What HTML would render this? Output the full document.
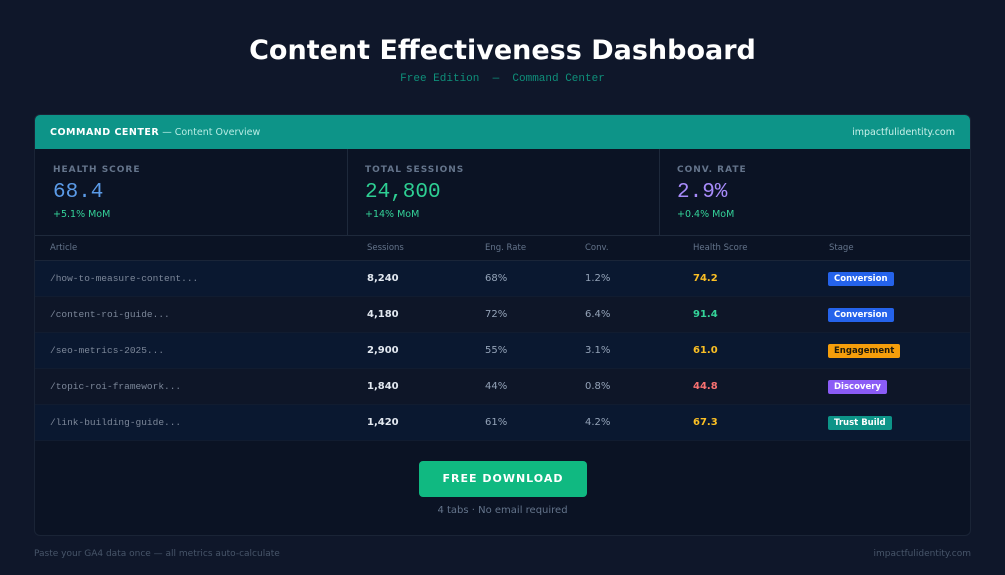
<!DOCTYPE html>
<html><head><meta charset="utf-8"><style>
*{margin:0;padding:0;box-sizing:border-box}
body{width:1005px;height:575px;background:#0f172a;font-family:"DejaVu Sans","Liberation Sans",sans-serif;position:relative;overflow:hidden;color:#e2e8f0}
.a{position:absolute;white-space:nowrap}
.mono{font-family:"Courier New","Liberation Mono",monospace}
.card{position:absolute;left:34px;top:114px;width:937px;height:422px;background:#0b1324;border:1px solid #1a2436;border-radius:6px;overflow:hidden}
.hdr{position:absolute;left:0;top:0;width:100%;height:34px;background:#0d9488}
.row{position:absolute;left:0;width:100%;height:36px;border-bottom:1px solid #111c30}
.badge{position:absolute;height:14px;line-height:14px;padding:0 6px;border-radius:2px;font-size:8.5px;font-weight:bold;color:#fff}
</style></head><body>
<div class="a" style="left:0;width:1005px;text-align:center;top:35px;font-size:27px;font-weight:bold;color:#fff">Content Effectiveness Dashboard</div>
<div class="a mono" style="left:0;width:1005px;text-align:center;top:73px;font-size:11px;color:#0f8f7a">Free Edition &nbsp;— &nbsp;Command Center</div>
<div class="card">
 <div class="hdr">
  <div class="a" style="left:15px;top:12px;font-size:9.5px;color:#fff"><b style="letter-spacing:0.5px">COMMAND CENTER</b> <span style="color:#b7ece4">— Content Overview</span></div>
  <div class="a" style="right:15px;top:12px;font-size:9.5px;color:#c9f1ea">impactfulidentity.com</div>
 </div>
 <div class="a" style="left:312px;top:34px;width:1px;height:86px;background:#1e293b"></div>
 <div class="a" style="left:624px;top:34px;width:1px;height:86px;background:#1e293b"></div>
 <div class="a" style="left:0;top:120px;width:100%;height:1px;background:#1e293b"></div>
 <div class="a" style="left:18px;top:50px;font-size:9px;font-weight:bold;letter-spacing:1px;color:#64748b">HEALTH SCORE</div>
 <div class="a mono" style="left:18px;top:66px;font-size:21px;color:#5b9be8">68.4</div>
 <div class="a" style="left:18px;top:94px;font-size:9.5px;color:#34d399">+5.1% MoM</div>
 <div class="a" style="left:330px;top:50px;font-size:9px;font-weight:bold;letter-spacing:1px;color:#64748b">TOTAL SESSIONS</div>
 <div class="a mono" style="left:330px;top:66px;font-size:21px;color:#2ecf93">24,800</div>
 <div class="a" style="left:330px;top:94px;font-size:9.5px;color:#34d399">+14% MoM</div>
 <div class="a" style="left:642px;top:50px;font-size:9px;font-weight:bold;letter-spacing:1px;color:#64748b">CONV. RATE</div>
 <div class="a mono" style="left:642px;top:66px;font-size:21px;color:#a78bfa">2.9%</div>
 <div class="a" style="left:642px;top:94px;font-size:9.5px;color:#34d399">+0.4% MoM</div>
 <div class="row" style="top:121px;height:25px;background:#0b1324;border-bottom:1px solid #1a2538"></div>
 <div class="a" style="left:15px;top:128px;font-size:8.5px;color:#64748b">Article</div>
 <div class="a" style="left:332px;top:128px;font-size:8.5px;color:#64748b">Sessions</div>
 <div class="a" style="left:450px;top:128px;font-size:8.5px;color:#64748b">Eng. Rate</div>
 <div class="a" style="left:550px;top:128px;font-size:8.5px;color:#64748b">Conv.</div>
 <div class="a" style="left:658px;top:128px;font-size:8.5px;color:#64748b">Health Score</div>
 <div class="a" style="left:794px;top:128px;font-size:8.5px;color:#64748b">Stage</div>

 <div class="row" style="top:146px;background:#0a1830"></div>
 <div class="row" style="top:182px;background:#0e1628"></div>
 <div class="row" style="top:218px;background:#0a1830"></div>
 <div class="row" style="top:254px;background:#0e1628"></div>
 <div class="row" style="top:290px;background:#0a1830"></div>

 <div class="a mono" style="left:15px;top:158px;font-size:9.5px;color:#7c8799">/how-to-measure-content...</div>
 <div class="a" style="left:332px;top:158px;font-size:10px;font-weight:bold;color:#e2e8f0">8,240</div>
 <div class="a" style="left:450px;top:158px;font-size:10px;color:#94a3b8">68%</div>
 <div class="a" style="left:550px;top:158px;font-size:10px;color:#94a3b8">1.2%</div>
 <div class="a" style="left:658px;top:158px;font-size:10px;font-weight:bold;color:#fbbf24">74.2</div>
 <div class="badge" style="left:793px;top:157px;background:#2563eb">Conversion</div>

 <div class="a mono" style="left:15px;top:194px;font-size:9.5px;color:#7c8799">/content-roi-guide...</div>
 <div class="a" style="left:332px;top:194px;font-size:10px;font-weight:bold;color:#e2e8f0">4,180</div>
 <div class="a" style="left:450px;top:194px;font-size:10px;color:#94a3b8">72%</div>
 <div class="a" style="left:550px;top:194px;font-size:10px;color:#94a3b8">6.4%</div>
 <div class="a" style="left:658px;top:194px;font-size:10px;font-weight:bold;color:#34d399">91.4</div>
 <div class="badge" style="left:793px;top:193px;background:#2563eb">Conversion</div>

 <div class="a mono" style="left:15px;top:230px;font-size:9.5px;color:#7c8799">/seo-metrics-2025...</div>
 <div class="a" style="left:332px;top:230px;font-size:10px;font-weight:bold;color:#e2e8f0">2,900</div>
 <div class="a" style="left:450px;top:230px;font-size:10px;color:#94a3b8">55%</div>
 <div class="a" style="left:550px;top:230px;font-size:10px;color:#94a3b8">3.1%</div>
 <div class="a" style="left:658px;top:230px;font-size:10px;font-weight:bold;color:#fbbf24">61.0</div>
 <div class="badge" style="left:793px;top:229px;background:#f59e0b;color:#1f1a0a">Engagement</div>

 <div class="a mono" style="left:15px;top:266px;font-size:9.5px;color:#7c8799">/topic-roi-framework...</div>
 <div class="a" style="left:332px;top:266px;font-size:10px;font-weight:bold;color:#e2e8f0">1,840</div>
 <div class="a" style="left:450px;top:266px;font-size:10px;color:#94a3b8">44%</div>
 <div class="a" style="left:550px;top:266px;font-size:10px;color:#94a3b8">0.8%</div>
 <div class="a" style="left:658px;top:266px;font-size:10px;font-weight:bold;color:#f87171">44.8</div>
 <div class="badge" style="left:793px;top:265px;background:#8b5cf6">Discovery</div>

 <div class="a mono" style="left:15px;top:302px;font-size:9.5px;color:#7c8799">/link-building-guide...</div>
 <div class="a" style="left:332px;top:302px;font-size:10px;font-weight:bold;color:#e2e8f0">1,420</div>
 <div class="a" style="left:450px;top:302px;font-size:10px;color:#94a3b8">61%</div>
 <div class="a" style="left:550px;top:302px;font-size:10px;color:#94a3b8">4.2%</div>
 <div class="a" style="left:658px;top:302px;font-size:10px;font-weight:bold;color:#fbbf24">67.3</div>
 <div class="badge" style="left:793px;top:301px;background:#0d9488">Trust Build</div>

 <div class="a" style="left:384px;top:346px;width:168px;height:36px;background:#10b981;border-radius:4px;text-align:center;line-height:36px;font-size:11px;font-weight:bold;letter-spacing:1px;color:#fff">FREE DOWNLOAD</div>
 <div class="a" style="left:0;width:100%;text-align:center;top:390px;font-size:10px;color:#64748b">4 tabs · No email required</div>
</div>
<div class="a" style="left:34px;top:549px;font-size:9px;color:#475569">Paste your GA4 data once — all metrics auto-calculate</div>
<div class="a" style="right:34px;top:549px;font-size:9px;color:#475569">impactfulidentity.com</div>
</body></html>
